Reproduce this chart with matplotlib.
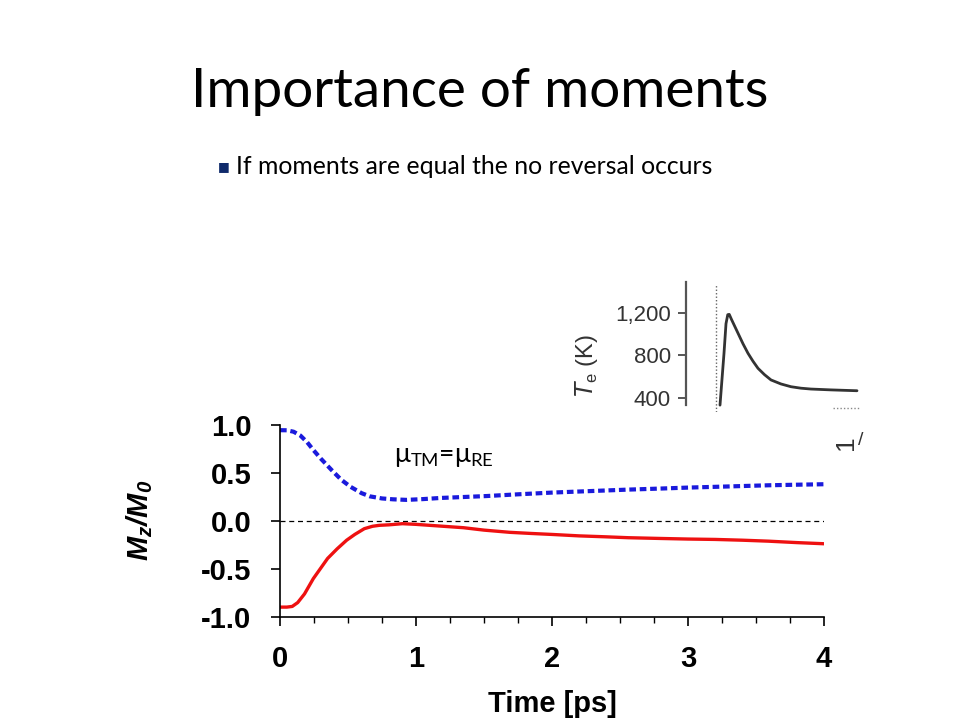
import matplotlib
matplotlib.use("Agg")
import matplotlib.pyplot as plt
from matplotlib.ticker import MultipleLocator, FixedLocator

# ---- data ----
time_tm = [0, 0.05, 0.1, 0.15, 0.2, 0.245, 0.3, 0.38, 0.45, 0.52, 0.6, 0.66, 0.75,
           0.83, 0.93, 1.05, 1.18, 1.35, 1.52, 1.75, 2.0, 2.25, 2.56, 2.8, 3.0,
           3.3, 3.59, 3.8, 4.0]
mz_tm = [0.946, 0.945, 0.93, 0.89, 0.82, 0.74, 0.65, 0.53, 0.43, 0.355, 0.29, 0.257,
         0.235, 0.226, 0.22, 0.228, 0.24, 0.25, 0.26, 0.278, 0.296, 0.31, 0.327,
         0.338, 0.348, 0.36, 0.372, 0.378, 0.383]
time_re = [0, 0.05, 0.09, 0.13, 0.18, 0.245, 0.3, 0.35, 0.42, 0.49, 0.55, 0.62, 0.68,
           0.73, 0.8, 0.9, 1.0, 1.1, 1.2, 1.35, 1.5, 1.69, 1.85, 2.0, 2.2, 2.4, 2.56,
           2.8, 3.0, 3.2, 3.4, 3.59, 3.8, 4.0]
mz_re = [-0.897, -0.897, -0.89, -0.85, -0.76, -0.60, -0.49, -0.39, -0.29, -0.20, -0.14,
         -0.08, -0.055, -0.045, -0.04, -0.028, -0.035, -0.045, -0.055, -0.07, -0.095,
         -0.118, -0.13, -0.14, -0.155, -0.165, -0.174, -0.182, -0.188, -0.192, -0.2,
         -0.21, -0.225, -0.237]
x_ticks = [0, 1, 2, 3, 4]
y_ticks = [-1.0, -0.5, 0.0, 0.5, 1.0]
y_ticklabels = ["-1.0", "-0.5", "0.0", "0.5", "1.0"]

# inset (electron temperature)
inset_t = [0.08, 0.16, 0.20, 0.235, 0.265, 0.31, 0.44, 0.54, 0.64, 0.74, 0.84, 0.97,
           1.10, 1.30, 1.50, 1.70, 1.90, 2.30, 2.82]
inset_T = [330, 820, 1100, 1185, 1188, 1140, 1010, 910, 820, 745, 678, 618,
           568, 530, 504, 490, 482, 474, 466]
inset_yticks = [400, 800, 1200]
inset_yticklabels = ["400", "800", "1,200"]

title = "Importance of moments"
bullet = "If moments are equal the no reversal occurs"

W, H = 960, 720
fig = plt.figure(figsize=(9.6, 7.2), dpi=100)
fig.patch.set_facecolor("white")

def fx(px):
    return px / W

def fy(py):
    return 1 - py / H

# ---- title and bullet ----
fig.text(fx(480), fy(92), title, ha="center", va="center", fontsize=39.5,
         family="Lato", color="black")
fig.text(fx(223.5), fy(167), "\u25A0", ha="center", va="center", fontsize=9,
         color="#0f2a6b", family="DejaVu Sans")
fig.text(fx(236), fy(166), bullet, ha="left", va="center", fontsize=17.8,
         family="Lato", color="black")

# ---- inset ----
ia = fig.add_axes([fx(686), fy(412), fx(860) - fx(686), (412 - 282) / H])
ia.set_xlim(-0.6, 2.88)
ia.set_ylim(265, 1494)
ia.plot(inset_t, inset_T, color="#333333", lw=2.0, solid_capstyle="round",
        solid_joinstyle="round")
ia.axvline(0, color="#666666", lw=1.0, ls=(0, (1, 1.5)), ymax=0.985)
ia.plot([2.34, 2.9], [303, 303], color="#888888", lw=1.0, ls=(0, (1, 1.5)))
for s in ["top", "right", "bottom"]:
    ia.spines[s].set_visible(False)
ia.spines["left"].set_color("#555555")
ia.spines["left"].set_linewidth(1.6)
ia.spines["left"].set_bounds(331, 1494)
ia.set_xticks([])
ia.yaxis.set_major_locator(FixedLocator(inset_yticks))
ia.set_yticklabels(inset_yticklabels)
ia.tick_params(axis="y", length=6, width=1.4, color="#555555", pad=5,
               labelsize=16, labelcolor="#333333")
for lab in ia.get_yticklabels():
    lab.set_family("Liberation Sans")
ia.patch.set_alpha(0)
fig.text(fx(586), fy(365), r"$\mathit{T}_{\mathregular{e}}$ (K)", rotation=90,
         ha="center", va="center", fontsize=17, color="#333333",
         family="Liberation Sans")
fig.text(fx(846), fy(443), "1", rotation=90, ha="center", va="center",
         fontsize=19, color="#333333", family="Liberation Sans")
fig.text(fx(861), fy(440), "/", ha="center", va="center",
         fontsize=14, color="#333333", family="Liberation Sans")

# ---- main axes ----
ax = fig.add_axes([fx(280), fy(617), fx(824) - fx(280), (617 - 425) / H])
ax.set_xlim(0, 4)
ax.set_ylim(-1.0, 1.0)
ax.axhline(0, color="black", lw=0.9, ls=(0, (4, 3)))
ax.plot(time_tm, mz_tm, color="#1a1adc", lw=3.0, ls=(0, (1.6, 0.9)))
ax.plot(time_re, mz_re, color="#ee1111", lw=2.4)
for s in ["top", "right"]:
    ax.spines[s].set_visible(False)
for s in ["left", "bottom"]:
    ax.spines[s].set_linewidth(1.2)
ax.xaxis.set_major_locator(FixedLocator(x_ticks))
ax.xaxis.set_minor_locator(MultipleLocator(0.25))
ax.yaxis.set_major_locator(FixedLocator(y_ticks))
ax.set_yticklabels(y_ticklabels)
ax.tick_params(axis="both", which="major", length=6.5, width=1.2, pad=14,
               labelsize=21)
ax.tick_params(axis="x", which="minor", length=4, width=1.0)
for lab in ax.get_xticklabels() + ax.get_yticklabels():
    lab.set_family("Liberation Sans")
    lab.set_fontweight("bold")
ax.set_xlabel("Time [ps]", fontsize=21, fontweight="bold", family="Liberation Sans",
              labelpad=12)
fig.text(fx(140), fy(520), r"M$_{\mathregular{z}}$/M$_{\mathregular{0}}$", rotation=90,
         ha="center", va="center", fontsize=21, fontweight="bold", fontstyle="italic",
         family="Liberation Sans")
ax.text(0.84, 0.667, "\u03bc$_{\\mathregular{TM}}$=\u03bc$_{\\mathregular{RE}}$",
        ha="left", va="center", fontsize=19, family="Lato", color="black")
ax.patch.set_alpha(0)

fig.savefig("out.png", dpi=100, facecolor="white")
